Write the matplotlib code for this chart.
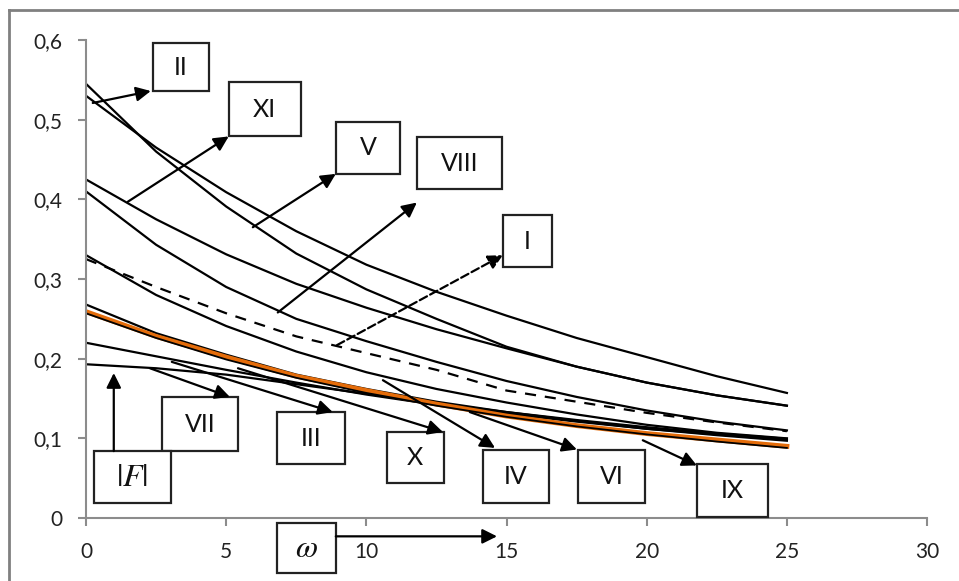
import matplotlib
matplotlib.use("Agg")
import matplotlib.pyplot as plt
from matplotlib.patches import Rectangle
from matplotlib.lines import Line2D

# omega grid and curves
omega = [0, 2.5, 5, 7.5, 10, 12.5, 15, 17.5, 20, 22.5, 25]
c_053 = [0.530, 0.465, 0.409, 0.360, 0.318, 0.284, 0.254, 0.226, 0.202, 0.178, 0.157]
c_0545 = [0.545, 0.460, 0.391, 0.332, 0.287, 0.250, 0.215, 0.190, 0.170, 0.154, 0.141]
c_0425 = [0.425, 0.375, 0.331, 0.294, 0.264, 0.237, 0.213, 0.190, 0.170, 0.154, 0.141]
c_041 = [0.410, 0.343, 0.290, 0.250, 0.222, 0.196, 0.172, 0.152, 0.135, 0.121, 0.110]
c_033 = [0.330, 0.280, 0.241, 0.209, 0.183, 0.162, 0.145, 0.130, 0.117, 0.107, 0.100]
c_dash = [0.325, 0.290, 0.257, 0.228, 0.207, 0.186, 0.160, 0.146, 0.132, 0.120, 0.109]
c_0268 = [0.268, 0.232, 0.205, 0.180, 0.162, 0.146, 0.133, 0.122, 0.112, 0.104, 0.097]
c_orange = [0.259, 0.228, 0.202, 0.178, 0.160, 0.143, 0.128, 0.116, 0.106, 0.098, 0.090]
c_0257 = [0.257, 0.226, 0.199, 0.176, 0.157, 0.141, 0.127, 0.115, 0.105, 0.096, 0.088]
c_022 = [0.220, 0.203, 0.186, 0.170, 0.155, 0.142, 0.131, 0.121, 0.112, 0.105, 0.098]
c_0193 = [0.193, 0.188, 0.180, 0.168, 0.156, 0.144, 0.133, 0.123, 0.114, 0.106, 0.0995]

solid_curves = [c_053, c_0545, c_0425, c_041, c_033, c_0268, c_022, c_0193]

# label boxes: text, (x0, y0, x1, y1) in data units
boxes = [
    ("II", (2.39, 0.536, 4.38, 0.596)),
    ("XI", (5.09, 0.479, 7.66, 0.547)),
    ("V", (8.91, 0.432, 11.20, 0.497)),
    ("VIII", (11.80, 0.413, 14.83, 0.478)),
    ("I", (14.87, 0.315, 16.62, 0.380)),
    ("VII", (2.70, 0.084, 5.42, 0.152)),
    (r"$|F|$", (0.28, 0.0185, 3.03, 0.084)),
    ("III", (6.81, 0.0675, 9.23, 0.133)),
    ("X", (10.73, 0.044, 12.76, 0.108)),
    ("IV", (14.16, 0.0185, 16.51, 0.085)),
    ("VI", (17.55, 0.0185, 19.94, 0.085)),
    ("IX", (21.79, 0.001, 24.32, 0.0675)),
    (r"$\omega$", (6.81, -0.0695, 8.91, -0.0066)),
]
# arrows: tail -> head, dashed?
arrows = [
    ((0.24, 0.521), (2.31, 0.536), False),
    ((1.49, 0.397), (5.09, 0.479), False),
    ((5.95, 0.365), (8.91, 0.432), False),
    ((6.84, 0.258), (11.80, 0.396), False),
    ((8.95, 0.217), (14.87, 0.330), True),
    ((2.28, 0.188), (5.13, 0.152), False),
    ((0.99, 0.084), (0.99, 0.182), False),
    ((3.06, 0.196), (8.80, 0.133), False),
    ((5.42, 0.188), (12.73, 0.108), False),
    ((10.59, 0.173), (14.59, 0.088), False),
    ((13.69, 0.133), (17.51, 0.086), False),
    ((19.86, 0.0976), (21.79, 0.066), False),
    ((8.91, -0.023), (14.66, -0.023), False),
]

plt.rcParams["font.family"] = ["Lato", "DejaVu Sans"]
plt.rcParams["mathtext.fontset"] = "stix"

fig = plt.figure(figsize=(9.59, 5.81), dpi=100)
ax = fig.add_axes([0.0897, 0.1084, 0.877, 0.8227])

for c in solid_curves:
    ax.plot(omega, c, color="black", lw=1.6)
ax.plot(omega, c_dash, color="black", lw=1.6, ls=(0, (5, 4)))
ax.plot(omega, c_orange, color="#e46c0a", lw=3.5)
ax.plot(omega, c_0257, color="black", lw=1.3)

ax.set_xlim(0, 30)
ax.set_ylim(0, 0.6)
ax.set_xticks(range(0, 31, 5))
ax.set_yticks([0, 0.1, 0.2, 0.3, 0.4, 0.5, 0.6])
ax.set_yticklabels(["0", "0,1", "0,2", "0,3", "0,4", "0,5", "0,6"])
for s in ("top", "right"):
    ax.spines[s].set_visible(False)
for s in ("left", "bottom"):
    ax.spines[s].set_color("#8c8c8c")
    ax.spines[s].set_linewidth(1.5)
ax.tick_params(direction="out", length=6, width=1.5, color="#8c8c8c",
               labelsize=15, labelcolor="#222222", pad=11)

for txt, (x0, y0, x1, y1) in boxes:
    ax.add_patch(Rectangle((x0, y0), x1 - x0, y1 - y0, fc="white", ec="#222222",
                           lw=1.6, clip_on=False, zorder=5))
    fs = 23 if txt.startswith("$") else 18
    ax.text((x0 + x1) / 2, (y0 + y1) / 2, txt, ha="center", va="center",
            fontsize=fs, color="#111111", zorder=6, clip_on=False)

for (tx, ty), (hx, hy), dashed in arrows:
    ax.annotate("", xy=(hx, hy), xytext=(tx, ty), annotation_clip=False,
                arrowprops=dict(arrowstyle="-|>", color="black", lw=1.6,
                                ls="--" if dashed else "-", mutation_scale=22,
                                shrinkA=0, shrinkB=0), zorder=7)

# outer frame (top and left edge only visible)
fig.add_artist(Line2D([9 / 959, 1], [1 - 10 / 581] * 2, color="#808080", lw=2))
fig.add_artist(Line2D([9 / 959] * 2, [0, 1 - 10 / 581], color="#808080", lw=2))

fig.savefig("out.png", dpi=100)
